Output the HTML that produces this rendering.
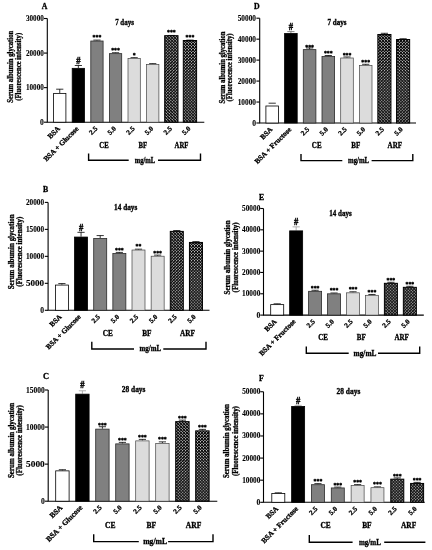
<!DOCTYPE html>
<html><head><meta charset="utf-8"><title>Serum albumin glycation</title>
<style>
html,body{margin:0;padding:0;background:#fff}
body{width:432px;height:550px;overflow:hidden}
svg{display:block}
.t text{font-family:"Liberation Serif",serif;font-weight:bold;fill:#000;stroke:#000;stroke-width:.3px}
.t text.tk{stroke-width:.1px}
.t text.hs{stroke-width:.45px}
.ax{stroke:#000;stroke-width:1.1;fill:none}
.br{stroke:#000;stroke-width:1.4;fill:none;stroke-linecap:square}
.eb{stroke:#000;stroke-width:.8;fill:none}
.bar{stroke:#000;stroke-width:.8}
.hb{stroke-width:1}
.b2,.b3{stroke:#2a2a2a}
.b4,.b5{stroke:#444;stroke-width:.7}
</style></head><body>
<svg width="432" height="550" viewBox="0 0 432 550">
<defs><pattern id="hatch" width="2.1" height="2.1" patternUnits="userSpaceOnUse" patternTransform="rotate(45)"><rect width="2.1" height="2.1" fill="#080808"/><rect x="0" y="0" width="1.12" height="1.12" fill="#cdcdcd"/></pattern></defs>
<rect width="432" height="550" fill="#fff"/>
<g class="t">
<g id="panelA">
<text x="41.8" y="8.9" font-size="7.8">A</text>
<path d="M47.30 18.50V122.20H204.30" class="ax"/>
<path d="M44.00 122.20H47.30" class="ax"/>
<text class="tk" x="43.80" y="124.70" font-size="7.6" text-anchor="end">0</text>
<path d="M44.00 87.63H47.30" class="ax"/>
<text class="tk" x="25.90" y="90.13" font-size="7.6" textLength="17.9" lengthAdjust="spacingAndGlyphs">10000</text>
<path d="M44.00 53.07H47.30" class="ax"/>
<text class="tk" x="25.90" y="55.57" font-size="7.6" textLength="17.9" lengthAdjust="spacingAndGlyphs">20000</text>
<path d="M44.00 18.50H47.30" class="ax"/>
<text class="tk" x="25.90" y="21.00" font-size="7.6" textLength="17.9" lengthAdjust="spacingAndGlyphs">30000</text>
<text transform="translate(12.6 66.8) rotate(-90)" font-size="7.3" textLength="72.0" lengthAdjust="spacingAndGlyphs" x="-36.0" y="0">Serum albumin glycation</text>
<text transform="translate(20.6 66.8) rotate(-90)" font-size="7.3" textLength="68.0" lengthAdjust="spacingAndGlyphs" x="-34.0" y="0">(Fluorescence intensity)</text>
<text transform="translate(124.5 25.4) scale(0.940 1)" font-size="7.4" text-anchor="middle">7 days</text>
<path d="M59.75 92.99V89.19M56.15 89.19H63.35" class="eb"/>
<rect x="53.60" y="93.39" width="12.30" height="28.81" fill="#fff" class="bar b0"/>
<text transform="translate(60.55 129.10) rotate(-45)" font-size="7.30" text-anchor="end">BSA</text>
<path d="M78.35 67.93V65.51M74.75 65.51H81.95" class="eb"/>
<rect x="72.20" y="68.33" width="12.30" height="53.87" fill="#000" class="bar b1"/>
<text transform="translate(78.35 63.91) scale(.82 1)" font-size="10.5" text-anchor="middle" class="hs">#</text>
<text transform="translate(79.15 129.10) rotate(-45)" font-size="7.30" text-anchor="end">BSA + Glucose</text>
<path d="M96.95 40.62V40.10M93.35 40.10H100.55" class="eb"/>
<rect x="90.80" y="41.02" width="12.30" height="81.18" fill="#808080" class="bar b2"/>
<text x="96.95" y="39.22" font-size="5.8" text-anchor="middle">***</text>
<text transform="translate(97.95 129.10) rotate(-45)" font-size="7.00" text-anchor="end">2.5</text>
<path d="M115.55 53.24V52.72M111.95 52.72H119.15" class="eb"/>
<rect x="109.40" y="53.64" width="12.30" height="68.56" fill="#808080" class="bar b3"/>
<text x="115.55" y="51.84" font-size="5.8" text-anchor="middle">***</text>
<text transform="translate(116.55 129.10) rotate(-45)" font-size="7.00" text-anchor="end">5.0</text>
<path d="M134.15 58.01V57.66M130.55 57.66H137.75" class="eb"/>
<rect x="128.00" y="58.41" width="12.30" height="63.79" fill="#dcdcdc" class="bar b4"/>
<text x="134.15" y="56.61" font-size="5.8" text-anchor="middle">*</text>
<text transform="translate(135.15 129.10) rotate(-45)" font-size="7.00" text-anchor="end">2.5</text>
<path d="M152.75 63.96V63.61M149.15 63.61H156.35" class="eb"/>
<rect x="146.60" y="64.36" width="12.30" height="57.84" fill="#dcdcdc" class="bar b5"/>
<text transform="translate(153.75 129.10) rotate(-45)" font-size="7.00" text-anchor="end">5.0</text>
<path d="M171.35 35.78V35.44M167.75 35.44H174.95" class="eb"/>
<rect x="164.70" y="35.68" width="13.30" height="86.52" fill="url(#hatch)" class="bar hb"/>
<text x="171.35" y="34.38" font-size="5.8" text-anchor="middle">***</text>
<text transform="translate(172.35 129.10) rotate(-45)" font-size="7.00" text-anchor="end">2.5</text>
<path d="M189.95 40.62V40.10M186.35 40.10H193.55" class="eb"/>
<rect x="183.30" y="40.52" width="13.30" height="81.68" fill="url(#hatch)" class="bar hb"/>
<text x="189.95" y="39.22" font-size="5.8" text-anchor="middle">***</text>
<text transform="translate(190.95 129.10) rotate(-45)" font-size="7.00" text-anchor="end">5.0</text>
<text transform="translate(104.00 147.50) scale(0.910 1)" font-size="7.4" text-anchor="middle">CE</text>
<text transform="translate(142.90 147.50) scale(0.910 1)" font-size="7.4" text-anchor="middle">BF</text>
<text transform="translate(181.50 147.50) scale(0.910 1)" font-size="7.4" text-anchor="middle">ARF</text>
<path d="M88.60 154.30V160.30H128.00M158.70 160.30H200.50V154.30" class="br"/>
<text transform="translate(145.00 162.60) scale(0.890 1)" font-size="7.4" text-anchor="middle">mg/mL</text>
</g>
<g id="panelD">
<text x="254.0" y="9.0" font-size="7.8">D</text>
<path d="M259.70 18.20V123.00H416.00" class="ax"/>
<path d="M256.40 123.00H259.70" class="ax"/>
<text class="tk" x="256.00" y="125.50" font-size="7.6" text-anchor="end">0</text>
<path d="M256.40 102.04H259.70" class="ax"/>
<text class="tk" x="237.70" y="104.54" font-size="7.6" textLength="18.3" lengthAdjust="spacingAndGlyphs">10000</text>
<path d="M256.40 81.08H259.70" class="ax"/>
<text class="tk" x="237.70" y="83.58" font-size="7.6" textLength="18.3" lengthAdjust="spacingAndGlyphs">20000</text>
<path d="M256.40 60.12H259.70" class="ax"/>
<text class="tk" x="237.70" y="62.62" font-size="7.6" textLength="18.3" lengthAdjust="spacingAndGlyphs">30000</text>
<path d="M256.40 39.16H259.70" class="ax"/>
<text class="tk" x="237.70" y="41.66" font-size="7.6" textLength="18.3" lengthAdjust="spacingAndGlyphs">40000</text>
<path d="M256.40 18.20H259.70" class="ax"/>
<text class="tk" x="237.70" y="20.70" font-size="7.6" textLength="18.3" lengthAdjust="spacingAndGlyphs">50000</text>
<text transform="translate(224.6 67.5) rotate(-90)" font-size="7.3" textLength="72.0" lengthAdjust="spacingAndGlyphs" x="-36.0" y="0">Serum albumin glycation</text>
<text transform="translate(232.4 67.5) rotate(-90)" font-size="7.3" textLength="68.0" lengthAdjust="spacingAndGlyphs" x="-34.0" y="0">(Fluorescence intensity)</text>
<text transform="translate(337.0 25.4) scale(0.953 1)" font-size="7.4" text-anchor="middle">7 days</text>
<path d="M272.20 103.19V103.19M268.60 103.19H275.80" class="eb"/>
<rect x="265.90" y="106.00" width="12.60" height="17.00" fill="#fff" class="bar b0"/>
<text transform="translate(273.00 129.90) rotate(-45)" font-size="7.25" text-anchor="end">BSA</text>
<path d="M290.90 33.08V31.61M287.30 31.61H294.50" class="eb" style="stroke:#666"/>
<rect x="284.60" y="33.48" width="12.60" height="89.52" fill="#000" class="bar b1"/>
<text transform="translate(290.90 30.01) scale(.82 1)" font-size="10.5" text-anchor="middle" class="hs">#</text>
<text transform="translate(291.70 129.90) rotate(-45)" font-size="7.25" text-anchor="end">BSA + Fructose</text>
<path d="M309.60 49.22V47.96M306.00 47.96H313.20" class="eb"/>
<rect x="303.30" y="49.62" width="12.60" height="73.38" fill="#808080" class="bar b2"/>
<text x="309.60" y="48.52" font-size="5.8" text-anchor="middle">***</text>
<text transform="translate(309.70 129.90) rotate(-45)" font-size="7.00" text-anchor="end">2.5</text>
<path d="M328.30 56.14V55.51M324.70 55.51H331.90" class="eb"/>
<rect x="322.00" y="56.54" width="12.60" height="66.46" fill="#808080" class="bar b3"/>
<text x="328.30" y="55.44" font-size="5.8" text-anchor="middle">***</text>
<text transform="translate(328.40 129.90) rotate(-45)" font-size="7.00" text-anchor="end">5.0</text>
<path d="M347.00 57.60V56.98M343.40 56.98H350.60" class="eb"/>
<rect x="340.70" y="58.00" width="12.60" height="65.00" fill="#dcdcdc" class="bar b4"/>
<text x="347.00" y="56.90" font-size="5.8" text-anchor="middle">***</text>
<text transform="translate(347.10 129.90) rotate(-45)" font-size="7.00" text-anchor="end">2.5</text>
<path d="M365.70 65.15V64.31M362.10 64.31H369.30" class="eb"/>
<rect x="359.40" y="65.55" width="12.60" height="57.45" fill="#dcdcdc" class="bar b5"/>
<text x="365.70" y="64.45" font-size="5.8" text-anchor="middle">***</text>
<text transform="translate(365.80 129.90) rotate(-45)" font-size="7.00" text-anchor="end">5.0</text>
<path d="M384.40 34.34V33.29M380.80 33.29H388.00" class="eb"/>
<rect x="377.85" y="34.49" width="13.10" height="88.51" fill="url(#hatch)" class="bar hb"/>
<text transform="translate(384.50 129.90) rotate(-45)" font-size="7.00" text-anchor="end">2.5</text>
<path d="M403.10 39.37V38.74M399.50 38.74H406.70" class="eb"/>
<rect x="396.55" y="39.52" width="13.10" height="83.48" fill="url(#hatch)" class="bar hb"/>
<text transform="translate(403.20 129.90) rotate(-45)" font-size="7.00" text-anchor="end">5.0</text>
<text transform="translate(316.70 147.50) scale(0.950 1)" font-size="7.4" text-anchor="middle">CE</text>
<text transform="translate(355.80 147.50) scale(0.950 1)" font-size="7.4" text-anchor="middle">BF</text>
<text transform="translate(394.80 147.50) scale(0.950 1)" font-size="7.4" text-anchor="middle">ARF</text>
<path d="M301.00 154.60V160.60H341.60M372.30 160.60H412.80V154.60" class="br"/>
<text transform="translate(358.60 162.90) scale(0.915 1)" font-size="7.4" text-anchor="middle">mg/mL</text>
</g>
<g id="panelB">
<text x="43.0" y="192.0" font-size="7.8">B</text>
<path d="M48.10 202.40V310.30H209.50" class="ax"/>
<path d="M44.80 310.30H48.10" class="ax"/>
<text class="tk" x="44.10" y="312.80" font-size="7.6" text-anchor="end">0</text>
<path d="M44.80 283.32H48.10" class="ax"/>
<text class="tk" x="25.90" y="285.82" font-size="7.6" textLength="18.2" lengthAdjust="spacingAndGlyphs">5000</text>
<path d="M44.80 256.35H48.10" class="ax"/>
<text class="tk" x="25.90" y="258.85" font-size="7.6" textLength="18.2" lengthAdjust="spacingAndGlyphs">10000</text>
<path d="M44.80 229.38H48.10" class="ax"/>
<text class="tk" x="25.90" y="231.88" font-size="7.6" textLength="18.2" lengthAdjust="spacingAndGlyphs">15000</text>
<path d="M44.80 202.40H48.10" class="ax"/>
<text class="tk" x="25.90" y="204.90" font-size="7.6" textLength="18.2" lengthAdjust="spacingAndGlyphs">20000</text>
<text transform="translate(13.5 251.8) rotate(-90)" font-size="7.3" textLength="75.0" lengthAdjust="spacingAndGlyphs" x="-37.5" y="0">Serum albumin glycation</text>
<text transform="translate(22.0 251.8) rotate(-90)" font-size="7.3" textLength="70.0" lengthAdjust="spacingAndGlyphs" x="-35.0" y="0">(Fluorescence intensity)</text>
<text transform="translate(125.7 209.7) scale(0.983 1)" font-size="7.4" text-anchor="middle">14 days</text>
<path d="M61.90 284.67V283.59M58.30 283.59H65.50" class="eb"/>
<rect x="55.40" y="285.07" width="13.00" height="25.23" fill="#fff" class="bar b0"/>
<text transform="translate(62.20 317.20) rotate(-45)" font-size="7.25" text-anchor="end">BSA</text>
<path d="M81.05 236.66V232.34M77.45 232.34H84.65" class="eb"/>
<rect x="74.55" y="237.06" width="13.00" height="73.24" fill="#000" class="bar b1"/>
<text transform="translate(81.05 230.74) scale(.82 1)" font-size="10.5" text-anchor="middle" class="hs">#</text>
<text transform="translate(81.35 317.20) rotate(-45)" font-size="7.25" text-anchor="end">BSA + Glucose</text>
<path d="M100.20 238.01V235.58M96.60 235.58H103.80" class="eb"/>
<rect x="93.70" y="238.41" width="13.00" height="71.89" fill="#808080" class="bar b2"/>
<text transform="translate(100.50 317.20) rotate(-45)" font-size="7.00" text-anchor="end">2.5</text>
<path d="M119.35 253.11V252.41M115.75 252.41H122.95" class="eb"/>
<rect x="112.85" y="253.51" width="13.00" height="56.79" fill="#808080" class="bar b3"/>
<text x="119.35" y="251.91" font-size="5.8" text-anchor="middle">***</text>
<text transform="translate(119.65 317.20) rotate(-45)" font-size="7.00" text-anchor="end">5.0</text>
<path d="M138.50 249.61V249.17M134.90 249.17H142.10" class="eb"/>
<rect x="132.00" y="250.01" width="13.00" height="60.29" fill="#dcdcdc" class="bar b4"/>
<text x="138.50" y="248.41" font-size="5.8" text-anchor="middle">**</text>
<text transform="translate(138.80 317.20) rotate(-45)" font-size="7.00" text-anchor="end">2.5</text>
<path d="M157.65 255.81V255.11M154.05 255.11H161.25" class="eb"/>
<rect x="151.15" y="256.21" width="13.00" height="54.09" fill="#dcdcdc" class="bar b5"/>
<text x="157.65" y="254.61" font-size="5.8" text-anchor="middle">***</text>
<text transform="translate(157.95 317.20) rotate(-45)" font-size="7.00" text-anchor="end">5.0</text>
<path d="M176.80 230.99V230.56M173.20 230.56H180.40" class="eb"/>
<rect x="170.30" y="231.39" width="13.00" height="78.91" fill="url(#hatch)" class="bar hb"/>
<text transform="translate(177.10 317.20) rotate(-45)" font-size="7.00" text-anchor="end">2.5</text>
<path d="M195.95 242.05V241.62M192.35 241.62H199.55" class="eb"/>
<rect x="189.45" y="242.45" width="13.00" height="67.85" fill="url(#hatch)" class="bar hb"/>
<text transform="translate(196.25 317.20) rotate(-45)" font-size="7.00" text-anchor="end">5.0</text>
<text transform="translate(107.70 335.50) scale(0.980 1)" font-size="7.4" text-anchor="middle">CE</text>
<text transform="translate(146.90 335.50) scale(0.980 1)" font-size="7.4" text-anchor="middle">BF</text>
<text transform="translate(187.50 335.50) scale(0.980 1)" font-size="7.4" text-anchor="middle">ARF</text>
<path d="M91.80 342.50V349.00H133.30M164.00 349.00H206.00V342.50" class="br"/>
<text transform="translate(150.30 351.30) scale(0.935 1)" font-size="7.4" text-anchor="middle">mg/mL</text>
</g>
<g id="panelE">
<text x="259.0" y="199.5" font-size="7.8">E</text>
<path d="M263.50 208.50V315.10H423.80" class="ax"/>
<path d="M260.20 315.10H263.50" class="ax"/>
<text class="tk" x="260.30" y="317.60" font-size="7.6" text-anchor="end">0</text>
<path d="M260.20 293.78H263.50" class="ax"/>
<text class="tk" x="242.10" y="296.28" font-size="7.6" textLength="18.2" lengthAdjust="spacingAndGlyphs">10000</text>
<path d="M260.20 272.46H263.50" class="ax"/>
<text class="tk" x="242.10" y="274.96" font-size="7.6" textLength="18.2" lengthAdjust="spacingAndGlyphs">20000</text>
<path d="M260.20 251.14H263.50" class="ax"/>
<text class="tk" x="242.10" y="253.64" font-size="7.6" textLength="18.2" lengthAdjust="spacingAndGlyphs">30000</text>
<path d="M260.20 229.82H263.50" class="ax"/>
<text class="tk" x="242.10" y="232.32" font-size="7.6" textLength="18.2" lengthAdjust="spacingAndGlyphs">40000</text>
<path d="M260.20 208.50H263.50" class="ax"/>
<text class="tk" x="242.10" y="211.00" font-size="7.6" textLength="18.2" lengthAdjust="spacingAndGlyphs">50000</text>
<text transform="translate(229.5 257.4) rotate(-90)" font-size="7.3" textLength="74.0" lengthAdjust="spacingAndGlyphs" x="-37.0" y="0">Serum albumin glycation</text>
<text transform="translate(238.2 257.4) rotate(-90)" font-size="7.3" textLength="70.0" lengthAdjust="spacingAndGlyphs" x="-35.0" y="0">(Fluorescence intensity)</text>
<text transform="translate(340.5 216.4) scale(0.950 1)" font-size="7.4" text-anchor="middle">14 days</text>
<path d="M277.20 304.23V303.80M273.60 303.80H280.80" class="eb"/>
<rect x="270.70" y="304.63" width="13.00" height="10.47" fill="#fff" class="bar b0"/>
<text transform="translate(277.20 322.00) rotate(-45)" font-size="7.25" text-anchor="end">BSA</text>
<path d="M296.15 230.48V226.86M292.55 226.86H299.75" class="eb" style="stroke:#9a9a9a"/>
<rect x="289.65" y="230.88" width="13.00" height="84.22" fill="#000" class="bar b1"/>
<text transform="translate(296.15 224.56) scale(.82 1)" font-size="10.5" text-anchor="middle" class="hs">#</text>
<text transform="translate(296.15 322.00) rotate(-45)" font-size="7.25" text-anchor="end">BSA + Fructose</text>
<path d="M315.10 290.92V290.28M311.50 290.28H318.70" class="eb"/>
<rect x="308.60" y="291.32" width="13.00" height="23.78" fill="#808080" class="bar b2"/>
<text x="315.10" y="289.52" font-size="5.8" text-anchor="middle">***</text>
<text transform="translate(315.40 322.00) rotate(-45)" font-size="7.00" text-anchor="end">2.5</text>
<path d="M334.05 293.42V292.99M330.45 292.99H337.65" class="eb"/>
<rect x="327.55" y="293.82" width="13.00" height="21.28" fill="#808080" class="bar b3"/>
<text x="334.05" y="292.02" font-size="5.8" text-anchor="middle">***</text>
<text transform="translate(334.35 322.00) rotate(-45)" font-size="7.00" text-anchor="end">5.0</text>
<path d="M353.00 292.42V291.78M349.40 291.78H356.60" class="eb"/>
<rect x="346.50" y="292.82" width="13.00" height="22.28" fill="#dcdcdc" class="bar b4"/>
<text x="353.00" y="291.02" font-size="5.8" text-anchor="middle">***</text>
<text transform="translate(353.30 322.00) rotate(-45)" font-size="7.00" text-anchor="end">2.5</text>
<path d="M371.95 294.91V294.48M368.35 294.48H375.55" class="eb"/>
<rect x="365.45" y="295.31" width="13.00" height="19.79" fill="#dcdcdc" class="bar b5"/>
<text x="371.95" y="293.51" font-size="5.8" text-anchor="middle">***</text>
<text transform="translate(372.25 322.00) rotate(-45)" font-size="7.00" text-anchor="end">5.0</text>
<path d="M390.90 282.93V282.29M387.30 282.29H394.50" class="eb"/>
<rect x="384.40" y="283.33" width="13.00" height="31.77" fill="url(#hatch)" class="bar hb"/>
<text x="390.90" y="281.53" font-size="5.8" text-anchor="middle">***</text>
<text transform="translate(391.20 322.00) rotate(-45)" font-size="7.00" text-anchor="end">2.5</text>
<path d="M409.85 286.94V286.30M406.25 286.30H413.45" class="eb"/>
<rect x="403.35" y="287.34" width="13.00" height="27.76" fill="url(#hatch)" class="bar hb"/>
<text x="409.85" y="285.54" font-size="5.8" text-anchor="middle">***</text>
<text transform="translate(410.15 322.00) rotate(-45)" font-size="7.00" text-anchor="end">5.0</text>
<text transform="translate(323.00 340.00) scale(0.950 1)" font-size="7.4" text-anchor="middle">CE</text>
<text transform="translate(361.30 340.00) scale(0.950 1)" font-size="7.4" text-anchor="middle">BF</text>
<text transform="translate(401.60 340.00) scale(0.950 1)" font-size="7.4" text-anchor="middle">ARF</text>
<path d="M306.30 347.30V353.30H348.00M378.70 353.30H419.70V347.30" class="br"/>
<text transform="translate(365.00 355.60) scale(0.995 1)" font-size="7.4" text-anchor="middle">mg/mL</text>
</g>
<g id="panelC">
<text x="43.0" y="379.0" font-size="8.4">C</text>
<path d="M48.20 390.00V501.20H217.30" class="ax"/>
<path d="M44.90 501.20H48.20" class="ax"/>
<text class="tk" x="44.80" y="503.70" font-size="7.6" text-anchor="end">0</text>
<path d="M44.90 464.13H48.20" class="ax"/>
<text class="tk" x="26.10" y="466.63" font-size="7.6" textLength="18.7" lengthAdjust="spacingAndGlyphs">5000</text>
<path d="M44.90 427.07H48.20" class="ax"/>
<text class="tk" x="26.10" y="429.57" font-size="7.6" textLength="18.7" lengthAdjust="spacingAndGlyphs">10000</text>
<path d="M44.90 390.00H48.20" class="ax"/>
<text class="tk" x="26.10" y="392.50" font-size="7.6" textLength="18.7" lengthAdjust="spacingAndGlyphs">15000</text>
<text transform="translate(13.5 440.5) rotate(-90)" font-size="7.3" textLength="75.0" lengthAdjust="spacingAndGlyphs" x="-37.5" y="0">Serum albumin glycation</text>
<text transform="translate(22.0 440.5) rotate(-90)" font-size="7.3" textLength="70.5" lengthAdjust="spacingAndGlyphs" x="-35.2" y="0">(Fluorescence intensity)</text>
<text transform="translate(133.6 391.7) scale(1.005 1)" font-size="7.4" text-anchor="middle">28 days</text>
<path d="M62.40 470.46V469.72M58.80 469.72H66.00" class="eb"/>
<rect x="55.70" y="470.86" width="13.40" height="30.34" fill="#fff" class="bar b0"/>
<text transform="translate(63.00 508.10) rotate(-45)" font-size="7.60" text-anchor="end">BSA</text>
<path d="M82.40 393.75V390.79M78.80 390.79H86.00" class="eb" style="stroke:#9a9a9a"/>
<rect x="75.70" y="394.15" width="13.40" height="107.05" fill="#000" class="bar b1"/>
<text transform="translate(82.40 388.39) scale(.82 1)" font-size="10.5" text-anchor="middle" class="hs">#</text>
<text transform="translate(83.00 508.10) rotate(-45)" font-size="7.60" text-anchor="end">BSA + Glucose</text>
<path d="M102.40 428.73V426.73M98.80 426.73H106.00" class="eb"/>
<rect x="95.70" y="429.13" width="13.40" height="72.07" fill="#808080" class="bar b2"/>
<text x="102.40" y="427.03" font-size="5.8" text-anchor="middle">***</text>
<text transform="translate(102.20 508.10) rotate(-45)" font-size="7.00" text-anchor="end">2.5</text>
<path d="M122.40 443.48V442.37M118.80 442.37H126.00" class="eb"/>
<rect x="115.70" y="443.88" width="13.40" height="57.32" fill="#808080" class="bar b3"/>
<text x="122.40" y="441.78" font-size="5.8" text-anchor="middle">***</text>
<text transform="translate(122.20 508.10) rotate(-45)" font-size="7.00" text-anchor="end">5.0</text>
<path d="M142.40 440.48V439.37M138.80 439.37H146.00" class="eb"/>
<rect x="135.70" y="440.88" width="13.40" height="60.32" fill="#dcdcdc" class="bar b4"/>
<text x="142.40" y="438.78" font-size="5.8" text-anchor="middle">***</text>
<text transform="translate(142.20 508.10) rotate(-45)" font-size="7.00" text-anchor="end">2.5</text>
<path d="M162.40 442.98V441.87M158.80 441.87H166.00" class="eb"/>
<rect x="155.70" y="443.38" width="13.40" height="57.82" fill="#dcdcdc" class="bar b5"/>
<text x="162.40" y="441.28" font-size="5.8" text-anchor="middle">***</text>
<text transform="translate(162.20 508.10) rotate(-45)" font-size="7.00" text-anchor="end">5.0</text>
<path d="M182.40 421.24V420.13M178.80 420.13H186.00" class="eb"/>
<rect x="175.70" y="421.64" width="13.40" height="79.56" fill="url(#hatch)" class="bar hb"/>
<text x="182.40" y="419.54" font-size="5.8" text-anchor="middle">***</text>
<text transform="translate(182.20 508.10) rotate(-45)" font-size="7.00" text-anchor="end">2.5</text>
<path d="M202.40 430.48V429.37M198.80 429.37H206.00" class="eb"/>
<rect x="195.70" y="430.88" width="13.40" height="70.32" fill="url(#hatch)" class="bar hb"/>
<text x="202.40" y="428.78" font-size="5.8" text-anchor="middle">***</text>
<text transform="translate(202.20 508.10) rotate(-45)" font-size="7.00" text-anchor="end">5.0</text>
<text transform="translate(110.20 527.70) scale(1.020 1)" font-size="7.4" text-anchor="middle">CE</text>
<text transform="translate(151.20 527.70) scale(1.020 1)" font-size="7.4" text-anchor="middle">BF</text>
<text transform="translate(193.50 527.70) scale(1.020 1)" font-size="7.4" text-anchor="middle">ARF</text>
<path d="M93.70 535.00V541.60H138.10M168.80 541.60H213.00V535.00" class="br"/>
<text transform="translate(155.10 543.90) scale(1.040 1)" font-size="7.4" text-anchor="middle">mg/mL</text>
</g>
<g id="panelF">
<text x="259.0" y="380.7" font-size="7.8">F</text>
<path d="M263.50 391.75V502.30H424.80" class="ax"/>
<path d="M260.20 502.30H263.50" class="ax"/>
<text class="tk" x="260.40" y="504.80" font-size="7.6" text-anchor="end">0</text>
<path d="M260.20 480.19H263.50" class="ax"/>
<text class="tk" x="242.20" y="482.69" font-size="7.6" textLength="18.2" lengthAdjust="spacingAndGlyphs">10000</text>
<path d="M260.20 458.08H263.50" class="ax"/>
<text class="tk" x="242.20" y="460.58" font-size="7.6" textLength="18.2" lengthAdjust="spacingAndGlyphs">20000</text>
<path d="M260.20 435.97H263.50" class="ax"/>
<text class="tk" x="242.20" y="438.47" font-size="7.6" textLength="18.2" lengthAdjust="spacingAndGlyphs">30000</text>
<path d="M260.20 413.86H263.50" class="ax"/>
<text class="tk" x="242.20" y="416.36" font-size="7.6" textLength="18.2" lengthAdjust="spacingAndGlyphs">40000</text>
<path d="M260.20 391.75H263.50" class="ax"/>
<text class="tk" x="242.20" y="394.25" font-size="7.6" textLength="18.2" lengthAdjust="spacingAndGlyphs">50000</text>
<text transform="translate(229.3 441.1) rotate(-90)" font-size="7.3" textLength="74.0" lengthAdjust="spacingAndGlyphs" x="-37.0" y="0">Serum albumin glycation</text>
<text transform="translate(237.8 441.1) rotate(-90)" font-size="7.3" textLength="70.0" lengthAdjust="spacingAndGlyphs" x="-35.0" y="0">(Fluorescence intensity)</text>
<text transform="translate(348.4 393.6) scale(1.005 1)" font-size="7.4" text-anchor="middle">28 days</text>
<path d="M278.30 493.04V492.82M274.70 492.82H281.90" class="eb"/>
<rect x="271.80" y="493.44" width="13.00" height="8.86" fill="#fff" class="bar b0"/>
<text transform="translate(278.80 509.20) rotate(-45)" font-size="7.30" text-anchor="end">BSA</text>
<path d="M298.13 406.01V405.34M294.53 405.34H301.73" class="eb" style="stroke:#9a9a9a"/>
<rect x="291.63" y="406.41" width="13.00" height="95.89" fill="#000" class="bar b1"/>
<text transform="translate(298.13 403.74) scale(.82 1)" font-size="10.5" text-anchor="middle" class="hs">#</text>
<text transform="translate(298.63 509.20) rotate(-45)" font-size="7.30" text-anchor="end">BSA + Fructose</text>
<path d="M317.96 484.29V483.63M314.36 483.63H321.56" class="eb"/>
<rect x="311.46" y="484.69" width="13.00" height="17.61" fill="#808080" class="bar b2"/>
<text x="317.96" y="483.39" font-size="5.8" text-anchor="middle">***</text>
<text transform="translate(317.96 509.20) rotate(-45)" font-size="7.00" text-anchor="end">2.5</text>
<path d="M337.79 487.54V487.10M334.19 487.10H341.39" class="eb"/>
<rect x="331.29" y="487.94" width="13.00" height="14.36" fill="#808080" class="bar b3"/>
<text x="337.79" y="486.64" font-size="5.8" text-anchor="middle">***</text>
<text transform="translate(337.79 509.20) rotate(-45)" font-size="7.00" text-anchor="end">5.0</text>
<path d="M357.62 485.04V484.60M354.02 484.60H361.22" class="eb"/>
<rect x="351.12" y="485.44" width="13.00" height="16.86" fill="#dcdcdc" class="bar b4"/>
<text x="357.62" y="484.14" font-size="5.8" text-anchor="middle">***</text>
<text transform="translate(357.62 509.20) rotate(-45)" font-size="7.00" text-anchor="end">2.5</text>
<path d="M377.45 487.29V486.85M373.85 486.85H381.05" class="eb"/>
<rect x="370.95" y="487.69" width="13.00" height="14.61" fill="#dcdcdc" class="bar b5"/>
<text x="377.45" y="486.39" font-size="5.8" text-anchor="middle">***</text>
<text transform="translate(377.45 509.20) rotate(-45)" font-size="7.00" text-anchor="end">5.0</text>
<path d="M397.28 478.79V477.91M393.68 477.91H400.88" class="eb"/>
<rect x="390.78" y="479.19" width="13.00" height="23.11" fill="url(#hatch)" class="bar hb"/>
<text x="397.28" y="477.89" font-size="5.8" text-anchor="middle">***</text>
<text transform="translate(397.28 509.20) rotate(-45)" font-size="7.00" text-anchor="end">2.5</text>
<path d="M417.11 483.04V482.38M413.51 482.38H420.71" class="eb"/>
<rect x="410.61" y="483.44" width="13.00" height="18.86" fill="url(#hatch)" class="bar hb"/>
<text x="417.11" y="482.14" font-size="5.8" text-anchor="middle">***</text>
<text transform="translate(417.11 509.20) rotate(-45)" font-size="7.00" text-anchor="end">5.0</text>
<text transform="translate(325.60 528.00) scale(1.000 1)" font-size="7.4" text-anchor="middle">CE</text>
<text transform="translate(366.90 528.00) scale(1.000 1)" font-size="7.4" text-anchor="middle">BF</text>
<text transform="translate(408.60 528.00) scale(1.000 1)" font-size="7.4" text-anchor="middle">ARF</text>
<path d="M309.30 535.80V542.20H351.90M384.90 542.20H424.70V542.20" class="br"/>
<text transform="translate(369.90 544.50) scale(0.950 1)" font-size="7.4" text-anchor="middle">mg/mL</text>
</g>
</g></svg>
</body></html>
